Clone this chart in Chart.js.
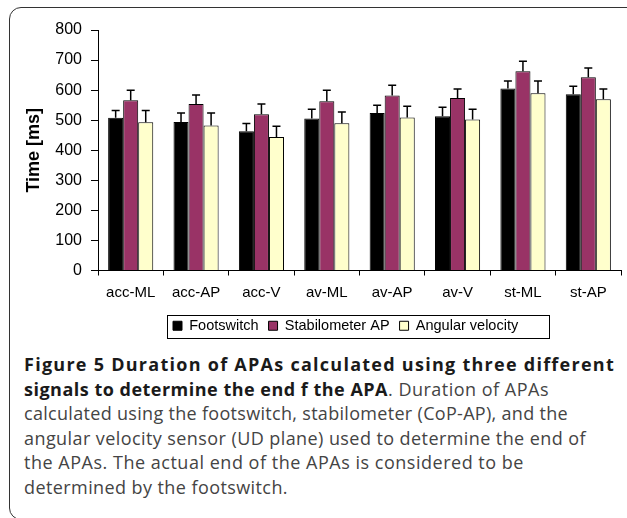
<!DOCTYPE html>
<html>
<head>
<meta charset="utf-8">
<script src="https://cdn.jsdelivr.net/npm/chart.js@4.4.1/dist/chart.umd.min.js"></script>
<style>
  html, body { margin: 0; padding: 0; background: #fff; width: 627px; height: 518px; overflow: hidden; }
  #frame { position: absolute; left: 9px; top: 7px; width: 700px; height: 511px; border: 1.5px solid #333; border-radius: 12px; }
  #wrap { position: absolute; left: 0; top: 0; width: 627px; height: 350px; }
  #caption { position: absolute; left: 24px; top: 352px; font-family: "Open Sans", sans-serif; font-size: 18px;
             line-height: 24.5px; color: #444; white-space: nowrap; }
  #caption .ln { display: block; }
  #caption b { color: #1a1a1a; font-weight: 700; }
</style>
</head>
<body>
<div id="frame"></div>
<div id="wrap"><canvas id="chart"></canvas></div>
<div id="caption">
  <span class="ln" data-w="591"><b>Figure 5 Duration of APAs calculated using three different</b></span>
  <span class="ln" data-w="525"><b>signals to determine the end f the APA</b>. Duration of APAs</span>
  <span class="ln" data-w="544">calculated using the footswitch, stabilometer (CoP-AP), and the</span>
  <span class="ln" data-w="562">angular velocity sensor (UD plane) used to determine the end of</span>
  <span class="ln" data-w="500">the APAs. The actual end of the APAs is considered to be</span>
  <span class="ln" data-w="264">determined by the footswitch.</span>
</div>
<script>
const categories = ['acc-ML', 'acc-AP', 'acc-V', 'av-ML', 'av-AP', 'av-V', 'st-ML', 'st-AP'];

// mean durations [ms]
const footswitch = [508, 494, 463, 506, 524, 513, 605, 586];
const stabilometer = [566, 554, 520, 563, 582, 574, 663, 643];
const angular = [493, 482, 444, 490, 509, 502, 590, 570];

// upper error bar (SD) [ms]
const footswitchSd = [24, 30, 26, 30, 26, 30, 25, 27];
const stabilometerSd = [34, 30, 34, 37, 34, 30, 33, 31];
const angularSd = [39, 42, 36, 37, 37, 34, 40, 34];

const yTicks = [0, 100, 200, 300, 400, 500, 600, 700, 800];

// stretch caption lines to the widths of the printed figure
document.querySelectorAll('#caption .ln').forEach((el) => {
  el.style.display = 'inline-block';
  const natural = el.getBoundingClientRect().width;
  const chars = el.textContent.trim().length;
  const target = Number(el.dataset.w);
  el.style.letterSpacing = ((target - natural) / chars) + 'px';
  el.style.display = 'block';
});

const FONT = '"Liberation Sans", Arial, sans-serif';
Chart.defaults.color = '#000';
Chart.defaults.font.family = FONT;

// only the upper half of each error bar, with a cap
const errorBars = {
  id: 'errorBars',
  afterDatasetsDraw(chart) {
    const ctx = chart.ctx;
    const y = chart.scales.y;
    ctx.save();
    ctx.strokeStyle = '#000';
    ctx.lineWidth = 1.5;
    chart.data.datasets.forEach((ds, i) => {
      const meta = chart.getDatasetMeta(i);
      meta.data.forEach((bar, j) => {
        const top = y.getPixelForValue(ds.data[j] + ds.sd[j]);
        ctx.beginPath();
        ctx.moveTo(bar.x, bar.y);
        ctx.lineTo(bar.x, top);
        ctx.moveTo(bar.x - 4, top);
        ctx.lineTo(bar.x + 4, top);
        ctx.stroke();
      });
    });
    ctx.restore();
  }
};

// Excel-style legend: items start at a fixed spot, box drawn round them
const legendBox = {
  id: 'legendBox',
  afterLayout(chart) {
    const lg = chart.legend;
    lg.left = 163;
    lg.right = 621;
  },
  afterDraw(chart) {
    const hb = chart.legend.legendHitBoxes;
    if (!hb || !hb.length) { return; }
    const ctx = chart.ctx;
    ctx.save();
    ctx.strokeStyle = '#000';
    ctx.lineWidth = 1;
    const l = Math.round(hb[0].left - 6) + 0.5;
    const r = l + 382;
    const t = Math.round(hb[0].top - 4) + 0.5;
    const b = Math.round(hb[0].top + hb[0].height + 5) + 0.5;
    ctx.strokeRect(l, t, r - l, b - t);
    ctx.restore();
  }
};

new Chart(document.getElementById('chart'), {
  type: 'bar',
  data: {
    labels: categories,
    datasets: [
      { label: 'Footswitch', data: footswitch, sd: footswitchSd, backgroundColor: '#000000' },
      { label: 'Stabilometer AP', data: stabilometer, sd: stabilometerSd, backgroundColor: '#993366' },
      { label: 'Angular velocity', data: angular, sd: angularSd, backgroundColor: '#ffffcc' },
    ],
  },
  options: {
    responsive: true,
    maintainAspectRatio: false,
    animation: false,
    layout: { padding: { top: 30, right: 6, bottom: 7, left: 0 } },
    datasets: {
      bar: { categoryPercentage: 0.69, barPercentage: 1.0, borderWidth: 1, borderColor: '#000' },
    },
    scales: {
      x: {
        grid: { offset: true, drawOnChartArea: false, drawTicks: true, tickLength: 5, color: '#000' },
        border: { color: '#000', width: 1 },
        ticks: { font: { size: 15 }, color: '#000', padding: 8, maxRotation: 0, autoSkip: false },
        afterFit: (s) => { s.height = 38; },
      },
      y: {
        min: 0,
        max: 800,
        afterBuildTicks: (s) => { s.ticks = yTicks.map(v => ({ value: v })); },
        grid: { drawOnChartArea: false, drawTicks: true, tickLength: 7, color: '#000' },
        border: { color: '#000', width: 1 },
        ticks: { font: { size: 16 }, color: '#000', padding: 9 },
        title: { display: true, text: 'Time [ms]', color: '#000', font: { size: 18, weight: 'bold' }, padding: { top: 23, bottom: 0 } },
        afterFit: (s) => { s.width = 98; },
      },
    },
    plugins: {
      legend: {
        position: 'bottom',
        align: 'start',
        labels: { boxWidth: 9, boxHeight: 9, padding: 10, color: '#000', font: { size: 14.5 } },
      },
      tooltip: { enabled: false },
    },
  },
  plugins: [errorBars, legendBox],
});
</script>
</body>
</html>
